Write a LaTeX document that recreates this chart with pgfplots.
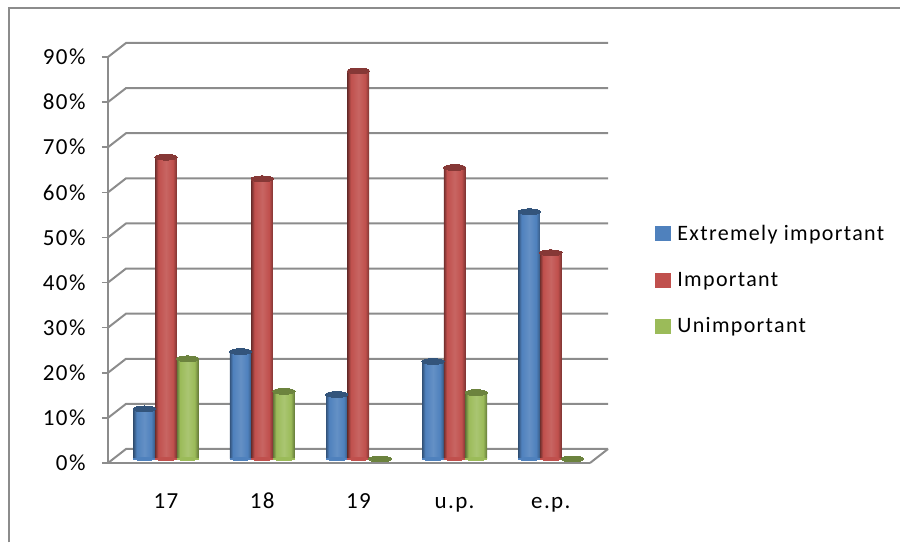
\documentclass[border=0pt]{standalone}
\usepackage{pgfplots}
\usepackage{pgfplotstable}
\usepackage{fontspec}
\setmainfont[LetterSpace=6]{Carlito}
\pgfplotsset{compat=1.18}

\definecolor{gridc}{HTML}{8C8C8C}
\definecolor{bluem}{HTML}{4F81BD}
\definecolor{redm}{HTML}{C0504D}
\definecolor{greenm}{HTML}{9BBB59}

% cylinder look: dark edges, light middle
\pgfdeclarehorizontalshading{cylblue}{100bp}{color(0bp)=(bluem!65!black); color(25bp)=(bluem!65!black); color(32bp)=(bluem); color(50bp)=(bluem!88!white); color(66bp)=(bluem); color(75bp)=(bluem!70!black); color(100bp)=(bluem!70!black)}
\pgfdeclarehorizontalshading{cylred}{100bp}{color(0bp)=(redm!60!black); color(25bp)=(redm!60!black); color(32bp)=(redm); color(50bp)=(redm!88!white); color(66bp)=(redm); color(75bp)=(redm!65!black); color(100bp)=(redm!65!black)}
\pgfdeclarehorizontalshading{cylgreen}{100bp}{color(0bp)=(greenm!65!black); color(25bp)=(greenm!65!black); color(32bp)=(greenm); color(50bp)=(greenm!85!white); color(66bp)=(greenm); color(75bp)=(greenm!65!black); color(100bp)=(greenm!65!black)}

\pgfplotstableread{
i ext imp unimp
0 11.1 66.9 22.2
1 23.8 62.1 15.0
2 14.3 86.0 0
3 21.6 64.6 14.7
4 54.8 45.7 0
}\data

\pgfplotsset{
  cyl/.style={ybar, bar width=21.5pt, bar shift=0pt, draw=none, yshift=4pt, forget plot},
  cap/.style={only marks, forget plot, yshift=4pt, mark=*,
    mark options={xscale=1.6, yscale=0.42, draw=#1, fill=#1, line width=0pt}, mark size=7pt},
  base/.style={only marks, forget plot, yshift=4pt, mark=*,
    mark options={xscale=1.5, yscale=0.2, draw=#1, fill=#1, line width=0pt}, mark size=7pt},
  swatch/.style={legend image code/.code={\fill[#1] (0pt,-7pt) rectangle (15pt,7pt); \path[draw=none] (0pt,0pt) -- (22pt,0pt);}},
}

\begin{document}
\begin{tikzpicture}
\path[use as bounding box] (-108pt,-80pt) rectangle (792pt,463pt);
\draw[gridc, line width=2pt] (-99pt,-79.5pt) -- (-99pt,455pt) -- (792pt,455pt);
\begin{axis}[
  scale only axis, width=482pt, height=406pt,
  xmin=-0.603, xmax=4.407, ymin=0, ymax=90,
  clip=false,
  axis x line=bottom, axis y line=left,
  axis line style={-, gridc},
  x axis line style={line width=2.5pt},
  y axis line style={line width=1.5pt},
  xtick={0,1,2,3,4},
  xticklabels={17,18,19,u.p.,e.p.},
  x tick label style={anchor=base, yshift=-40pt, font=\fontsize{23}{26}\selectfont},
  major x tick style={draw=none},
  ytick={0,10,...,90},
  yticklabel={\pgfmathprintnumber{\tick}\%},
  /pgf/number format/assume math mode=true,
  y tick label style={xshift=-13pt, font=\fontsize{23}{26}\selectfont},
  major y tick style={gridc, line width=1.5pt},
  tick align=outside, major tick length=6pt,
  legend style={at={(544pt,240pt)}, anchor=north west, draw=none, fill=none,
    row sep=30pt, font=\fontsize{22}{26}\selectfont,
    nodes={inner sep=0pt}},
  legend cell align=left,
]
\addlegendimage{swatch=bluem}
\addlegendimage{swatch=redm}
\addlegendimage{swatch=greenm}

% depth of the floor and walls
\pgfplotsinvokeforeach{0,10,...,90}{
  \draw[gridc, line width=2pt] (axis cs:-0.603,#1) -- ++(18pt,14pt) -- ++(482pt,0pt);
}
\draw[gridc, line width=2pt] (axis cs:4.407,0) -- ++(18pt,14pt);

% base ellipses under the bars
\addplot[base=bluem] table[x expr=\thisrow{i}-0.225, y expr=0] {\data};
\addplot[base=redm] table[x expr=\thisrow{i}, y expr=0] {\data};
\addplot[base=greenm] table[x expr=\thisrow{i}+0.225, y expr=0] {\data};

% one plot per bar, so that the shading spans a single bar
\pgfplotsinvokeforeach{-0.4:0.4,0.6:1.4,1.6:2.4,2.6:3.4,3.6:4.4}{
  \addplot[cyl, shading=cylblue, restrict x to domain=#1]
    table[x expr=\thisrow{i}-0.225, y=ext] {\data};
  \addplot[cyl, shading=cylred, restrict x to domain=#1]
    table[x expr=\thisrow{i}, y=imp] {\data};
  \addplot[cyl, shading=cylgreen, restrict x to domain=#1]
    table[x expr=\thisrow{i}+0.225, y=unimp] {\data};
}

\addplot[cap=bluem!65!black] table[x expr=\thisrow{i}-0.225, y=ext] {\data};
\addplot[cap=redm!70!black] table[x expr=\thisrow{i}, y=imp] {\data};
\addplot[cap=greenm!70!black] table[x expr=\thisrow{i}+0.225, y=unimp] {\data};

\legend{Extremely important,Important,Unimportant}
\end{axis}
\end{tikzpicture}
\end{document}
